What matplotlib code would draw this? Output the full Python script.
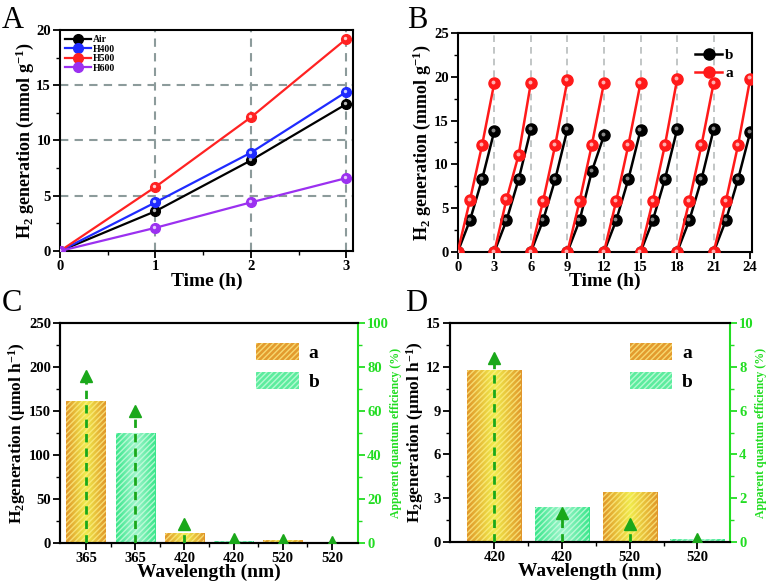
import numpy as np
import matplotlib
matplotlib.use('Agg')
import matplotlib.pyplot as plt
from matplotlib.colors import LinearSegmentedColormap
from matplotlib.patches import Patch
from matplotlib.transforms import offset_copy

plt.rcParams['font.family'] = 'Liberation Serif'
plt.rcParams['font.weight'] = 'bold'
plt.rcParams['mathtext.default'] = 'regular'
plt.rcParams['axes.linewidth'] = 1.5
plt.rcParams['hatch.linewidth'] = 1.0

# ---- panel A data
time_a = [0, 1, 2, 3]
air = [0, 3.6, 8.2, 13.3]
h400 = [0, 4.4, 8.9, 14.4]
h500 = [0, 5.8, 12.1, 19.2]
h600 = [0, 2.1, 4.4, 6.6]

# ---- panel B data (cycles of 3 h)
cycle_t = [0, 1, 2, 3]
cycle_start = [0, 3, 6, 9, 12, 15, 18, 21]
b_cycles = [[0, 3.6, 8.3, 13.8], [0, 3.6, 8.3, 14.0], [0, 3.6, 8.3, 14.0],
            [0, 3.6, 9.2, 13.3], [0, 3.6, 8.3, 13.9], [0, 3.6, 8.3, 14.0],
            [0, 3.6, 8.3, 14.0], [0, 3.6, 8.3, 13.7]]
a_cycles = [[0, 5.9, 12.2, 19.3], [0, 6.0, 11.1, 19.3], [0, 5.8, 12.2, 19.6],
            [0, 5.8, 12.2, 19.3], [0, 5.8, 12.2, 19.3], [0, 5.8, 12.2, 19.7],
            [0, 5.8, 12.2, 19.3], [0, 5.8, 12.2, 19.8]]

# ---- panel C data
wl_c = ['365', '365', '420', '420', '520', '520']
grp_c = ['a', 'b', 'a', 'b', 'a', 'b']
rate_c = [161, 124.5, 11, 2, 3, 0.5]
aqe_c = [76, 60, 8.5, 1.8, 1.5, 0.5]

# ---- panel D data
wl_d = ['420', '420', '520', '520']
grp_d = ['a', 'b', 'a', 'b']
rate_d = [11.8, 2.4, 3.4, 0.2]
aqe_d = [8.4, 1.3, 0.8, 0.1]

green = '#22dd22'
arrow_green = '#1aa81a'
orange_cmap = LinearSegmentedColormap.from_list('o', ['#e0952a', '#f0ec4c', '#e0952a'])
green_cmap = LinearSegmentedColormap.from_list('g', ['#38e68a', '#9ef5cc', '#38e68a'])
hatch_col = {'a': (1.0, 0.95, 0.55, 0.7), 'b': (0.85, 1.0, 0.9, 0.7)}
cmaps = {'a': orange_cmap, 'b': green_cmap}

fig = plt.figure(figsize=(7.72, 5.87), dpi=100)
axA = fig.add_axes([0.0777, 0.5724, 0.3796, 0.3765])
axB = fig.add_axes([0.5929, 0.5707, 0.3808, 0.3731])
axC = fig.add_axes([0.0777, 0.0750, 0.3860, 0.3748])
axD = fig.add_axes([0.5829, 0.0772, 0.3627, 0.3720])


def style(ax):
    ax.tick_params(which='major', direction='out', length=5, width=1.3, labelsize=10.5, pad=1.5)
    ax.tick_params(which='minor', direction='out', length=3, width=1.0)
    for lab in ax.get_xticklabels() + ax.get_yticklabels():
        lab.set_fontweight('bold')


def sphere(ax, x, y, color, hl, ms, label=None, lw=1.6, zorder=3):
    ax.plot(x, y, '-o', color=color, ms=ms, lw=lw, label=label, zorder=zorder,
            mec=color)
    tr = offset_copy(ax.transData, fig=fig, x=-0.8, y=0.8, units='points')
    ax.plot(x, y, 'o', color=hl, ms=ms * 0.35, mec='none', transform=tr,
            zorder=zorder + 0.1)


# ---------------- A
for yv in [5, 10, 15]:
    axA.axhline(yv, color='#8c9b9b', ls=(0, (4, 3)), lw=1.5, zorder=1)
for xv in [1, 2, 3]:
    axA.axvline(xv, color='#8c9b9b', ls=(0, (4, 3)), lw=1.5, zorder=1)
sphere(axA, time_a, air, 'black', '#bbbbbb', 7, 'Air')
sphere(axA, time_a, h400, '#1f2bff', '#c8d0ff', 7, 'H400')
sphere(axA, time_a, h500, '#ff2222', '#ffd0d0', 7, 'H500')
sphere(axA, time_a, h600, '#9b30f0', '#e6c8ff', 7, 'H600')
axA.set_xlim(0, 3.07)
axA.set_ylim(0, 20)
axA.set_xticks([0, 1, 2, 3])
axA.set_xticks([0.5, 1.5, 2.5], minor=True)
axA.set_yticks([0, 5, 10, 15, 20])
axA.set_yticks([2.5, 7.5, 12.5, 17.5], minor=True)
axA.set_xlabel('Time (h)', fontsize=14, fontweight='bold', labelpad=0)
axA.set_ylabel('H$_2$ generation (mmol g$^{-1}$)', fontsize=13, fontweight='bold', labelpad=0.5)
axA.legend(loc='upper left', frameon=False,
           prop={'weight': 'bold', 'size': 7}, handlelength=2.6,
           labelspacing=0.05, borderaxespad=0.15, handletextpad=0.2)
style(axA)

# ---------------- B
for xv in cycle_start[1:]:
    axB.axvline(xv, color='#b8bcbc', ls=(0, (4, 3)), lw=1.2, zorder=1)
for i, s in enumerate(cycle_start):
    xs = [s + t for t in cycle_t]
    sphere(axB, xs, b_cycles[i], 'black', '#888888', 8, 'b' if i == 0 else None, lw=1.8)
for i, s in enumerate(cycle_start):
    xs = [s + t for t in cycle_t]
    sphere(axB, xs, a_cycles[i], '#ff1a1a', '#ffb0b0', 8, 'a' if i == 0 else None, lw=1.8,
           zorder=4)
axB.set_xlim(0, 24.12)
axB.set_ylim(0, 25)
axB.set_xticks(range(0, 25, 3))
axB.set_yticks(range(0, 26, 5))
axB.set_yticks(np.arange(2.5, 25, 5), minor=True)
axB.set_xlabel('Time (h)', fontsize=14, fontweight='bold', labelpad=-1)
axB.set_ylabel('H$_2$ generation (mmol g$^{-1}$)', fontsize=13, fontweight='bold', labelpad=0.5)
axB.legend(loc='upper right', frameon=False,
           prop={'weight': 'bold', 'size': 11}, handlelength=1.8,
           labelspacing=0.25, borderaxespad=0.2, handletextpad=0.2,
           bbox_to_anchor=(0.97, 0.97))
style(axB)


# ---------------- C and D
def bar_panel(ax, wl, grp, rate, aqe, xlim, ylim, yticks, y2lim, y2ticks, y2minor, ylabel):
    x = np.arange(1, len(wl) + 1)
    bars = ax.bar(x, rate, width=0.8, color='none', zorder=2)
    grad = np.linspace(0, 1, 256).reshape(1, -1)
    for b, g in zip(bars, grp):
        x0, w, h = b.get_x(), b.get_width(), b.get_height()
        im = ax.imshow(grad, cmap=cmaps[g], aspect='auto', extent=[x0, x0 + w, 0, h],
                       zorder=1.5)
        im.set_clip_path(b)
        b.set_hatch('//////')
        b.set_edgecolor(hatch_col[g])
        b.set_linewidth(0)
    ax.set_xlim(*xlim)
    ax.set_ylim(*ylim)
    ax.set_yticks(yticks)
    ax.set_yticks((np.array(yticks[:-1]) + np.array(yticks[1:])) / 2, minor=True)
    ax.set_xticks(x)
    ax.set_xticklabels(wl)
    ax.set_xticks(x[:-1] + 0.5, minor=True)
    ax.set_xlabel('Wavelength (nm)', fontsize=14, fontweight='bold', labelpad=-1)
    ax.set_ylabel(ylabel, fontsize=12.5, fontweight='bold', labelpad=0.5)
    style(ax)
    ax.spines['right'].set_visible(False)

    ax2 = ax.twinx()
    ax2.set_ylim(*y2lim)
    ax2.set_yticks(y2ticks)
    ax2.set_yticks(y2minor, minor=True)
    for xi, v in zip(x, aqe):
        ax2.plot([xi, xi], [0, v], color=arrow_green, ls=(0, (3, 2.2)), lw=2, zorder=3)
        ax2.plot(xi, v, '^', color=arrow_green, ms=9, mec=arrow_green, zorder=4)
    ax2.spines['right'].set_color(green)
    ax2.spines['right'].set_linewidth(1.5)
    ax2.tick_params(axis='y', which='major', colors=green, direction='out', length=5,
                    width=1.3, labelsize=10.5, pad=1.5)
    ax2.tick_params(axis='y', which='minor', colors=green, direction='out', length=3, width=1)
    for lab in ax2.get_yticklabels():
        lab.set_fontweight('bold')
    ax2.set_ylabel('Apparent quantum efficiency (%)', color=green, fontsize=8.5,
                   fontweight='bold', labelpad=1)

    handles = [Patch(facecolor='#e39b2e', edgecolor=hatch_col['a'], hatch='//////', lw=0),
               Patch(facecolor='#5cec9e', edgecolor=hatch_col['b'], hatch='//////', lw=0)]
    ax.legend(handles, ['a', 'b'], loc='upper right', frameon=False,
              prop={'weight': 'bold', 'size': 14}, handlelength=2.2, handleheight=1.0,
              labelspacing=0.5, handletextpad=0.5, bbox_to_anchor=(0.93, 0.99))
    return ax2


bar_panel(axC, wl_c, grp_c, rate_c, aqe_c, (0.47, 6.53), (0, 250), [0, 50, 100, 150, 200, 250],
          (0, 100), [0, 20, 40, 60, 80, 100], np.arange(10, 100, 20),
          'H$_2$generation (\u03bcmol h$^{-1}$)')
bar_panel(axD, wl_d, grp_d, rate_d, aqe_d, (0.345, 4.48), (0, 15), [0, 3, 6, 9, 12, 15],
          (0, 10), [0, 2, 4, 6, 8, 10], np.arange(1, 10, 2),
          'H$_2$generation (\u03bcmol h$^{-1}$)')

# panel letters
for lab, (fx, fy) in zip('ABCD', [(0.002, 0.953), (0.527, 0.953), (0.002, 0.47), (0.525, 0.47)]):
    fig.text(fx, fy, lab, fontsize=22, fontweight='normal', ha='left', va='baseline')

fig.savefig('out.png', dpi=100)
